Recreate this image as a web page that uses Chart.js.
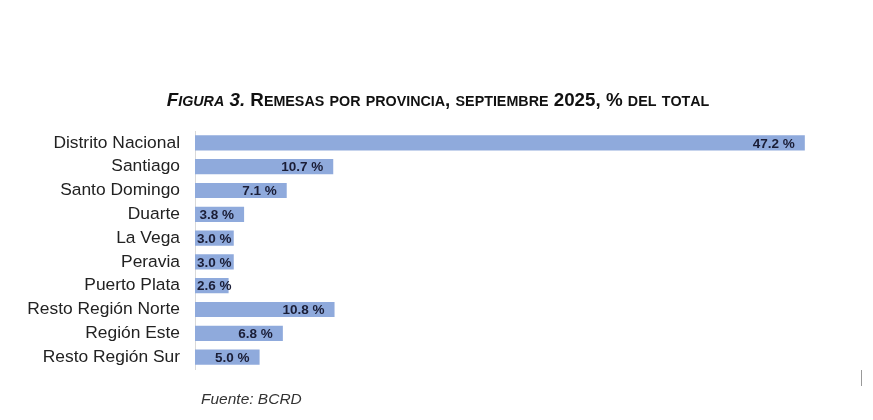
<!DOCTYPE html>
<html lang="es">
<head>
    <meta charset="UTF-8">
    <title>Remesas por provincia</title>
    <script src="https://cdn.jsdelivr.net/npm/chart.js"></script>
    <style>
        html, body { margin: 0; padding: 0; background: #fff; }
        #wrap { width: 873px; height: 420px; position: relative; }
    </style>
</head>
<body>
    <div id="wrap"><canvas id="remesasChart"></canvas></div>
    <script>
        const provincias = ['Distrito Nacional', 'Santiago', 'Santo Domingo', 'Duarte', 'La Vega', 'Peravia', 'Puerto Plata', 'Resto Región Norte', 'Región Este', 'Resto Región Sur'];
        const porcentajes = [47.2, 10.7, 7.1, 3.8, 3.0, 3.0, 2.6, 10.8, 6.8, 5.0];
        const tituloPartes = [
            { text: 'Figura', italic: true },
            { text: ' 3.', italic: true },
            { text: ' Remesas por provincia, septiembre 2025, % del total', italic: false }
        ];
        const fuente = 'Fuente: BCRD';

        // title in small caps, drawn letter by letter
        const titlePlugin = {
            id: 'titleSmallCaps',
            afterDraw(chart) {
                const ctx = chart.ctx;
                const big = 18.8, small = 14.3;
                const runs = [];
                tituloPartes.forEach(p => {
                    for (const ch of p.text) {
                        const lower = ch !== ch.toUpperCase();
                        runs.push({ ch: ch.toUpperCase(), size: lower ? small : big, italic: p.italic });
                    }
                });
                ctx.save();
                let total = 0;
                runs.forEach(r => {
                    ctx.font = (r.italic ? 'italic ' : '') + 'bold ' + r.size + 'px "Liberation Sans", Arial, sans-serif';
                    r.w = ctx.measureText(r.ch).width;
                    total += r.w;
                });
                let x = 438 - total / 2;
                const y = 106;
                ctx.fillStyle = '#111';
                ctx.textBaseline = 'alphabetic';
                runs.forEach(r => {
                    ctx.font = (r.italic ? 'italic ' : '') + 'bold ' + r.size + 'px "Liberation Sans", Arial, sans-serif';
                    ctx.fillText(r.ch, x, y);
                    x += r.w;
                });
                // source note
                ctx.font = 'italic 15.5px "Liberation Sans", Arial, sans-serif';
                ctx.fillStyle = '#333';
                ctx.fillText(fuente, 201, 404);
                // small mark at the right
                ctx.strokeStyle = '#999';
                ctx.lineWidth = 1;
                ctx.beginPath();
                ctx.moveTo(861.5, 370);
                ctx.lineTo(861.5, 386);
                ctx.stroke();
                ctx.restore();
            }
        };

        // value labels inside the end of each bar
        const valuePlugin = {
            id: 'valueLabels',
            afterDatasetsDraw(chart) {
                const ctx = chart.ctx;
                const meta = chart.getDatasetMeta(0);
                ctx.save();
                ctx.font = 'bold 13.5px "Liberation Sans", Arial, sans-serif';
                ctx.fillStyle = '#1a1d36';
                ctx.textBaseline = 'middle';
                meta.data.forEach((bar, i) => {
                    const txt = porcentajes[i].toFixed(1) + ' %';
                    const w = ctx.measureText(txt).width;
                    let x = bar.x - 10 - w;
                    if (x < bar.base + 2) x = bar.base + 2;
                    ctx.fillText(txt, x, bar.y + 1);
                });
                ctx.restore();
            }
        };

        new Chart(document.getElementById('remesasChart'), {
            type: 'bar',
            data: {
                labels: provincias,
                datasets: [{
                    data: porcentajes,
                    backgroundColor: '#8faadc',
                    borderWidth: 0,
                    barPercentage: 0.64,
                    categoryPercentage: 1
                }]
            },
            options: {
                indexAxis: 'y',
                responsive: true,
                maintainAspectRatio: false,
                animation: false,
                layout: { padding: { top: 131, bottom: 51, right: 32, left: 0 } },
                plugins: {
                    legend: { display: false },
                    tooltip: { enabled: false }
                },
                scales: {
                    x: {
                        display: false,
                        min: 0,
                        max: 50
                    },
                    y: {
                        afterFit(scale) { scale.width = 195; },
                        grid: { display: false, drawTicks: false },
                        border: { display: true, color: '#d9d9d9', width: 1 },
                        ticks: {
                            autoSkip: false,
                            padding: 15,
                            color: '#222',
                            font: { family: '"Liberation Sans", Arial, sans-serif', size: 17.4 }
                        }
                    }
                }
            },
            plugins: [valuePlugin, titlePlugin]
        });
    </script>
</body>
</html>
